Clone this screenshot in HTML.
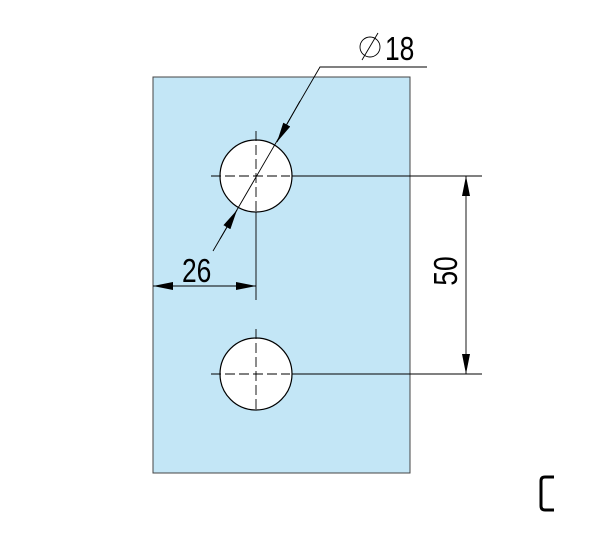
<!DOCTYPE html>
<html><head><style>body{margin:0;background:#fff}</style></head><body>
<svg width="600" height="535" viewBox="0 0 600 535" xmlns="http://www.w3.org/2000/svg" font-family="Liberation Sans, sans-serif">
<defs><marker id="a" viewBox="0 0 20 8" refX="20" refY="4" markerWidth="20" markerHeight="8" orient="auto-start-reverse" markerUnits="userSpaceOnUse"><path d="M0,0L20,4L0,8z" fill="#000"/></marker></defs>
<rect x="153" y="77" width="257" height="396" fill="#c3e6f6" stroke="#444" stroke-width="1"/>
<circle cx="256" cy="176" r="36" fill="#fff" stroke="#000" stroke-width="1.2"/>
<circle cx="256" cy="374" r="36" fill="#fff" stroke="#000" stroke-width="1.2"/>
<g stroke="#000" stroke-width="0.9" fill="none">
<path d="M211 176H290M256 131V212M211 374H290M256 329V410" stroke-dasharray="10,4"/>
<path d="M292 176H482M292 374H482"/>
<path d="M466 176V374" marker-start="url(#a)" marker-end="url(#a)"/>
<path d="M256 212V300"/>
<path d="M153 286H256" marker-start="url(#a)" marker-end="url(#a)"/>
<path d="M220 239L320 67H427"/>
<path d="M300 101L277 142" marker-end="url(#a)"/>
<path d="M213 251L237 210" marker-end="url(#a)"/>
<circle cx="370" cy="47" r="10"/><path d="M362 60L378 33"/>
</g>
<text transform="translate(385,60) scale(0.8,1)" font-size="33" fill="#000">18</text>
<text transform="translate(182,282) scale(0.8,1)" font-size="33" fill="#000">26</text>
<text transform="translate(457,271) rotate(-90) scale(0.8,1)" text-anchor="middle" font-size="33" fill="#000">50</text>
<path d="M554 477H545Q541 477 541 481V506Q541 510 545 510H554" fill="none" stroke="#000" stroke-width="3"/>
</svg>
</body></html>
